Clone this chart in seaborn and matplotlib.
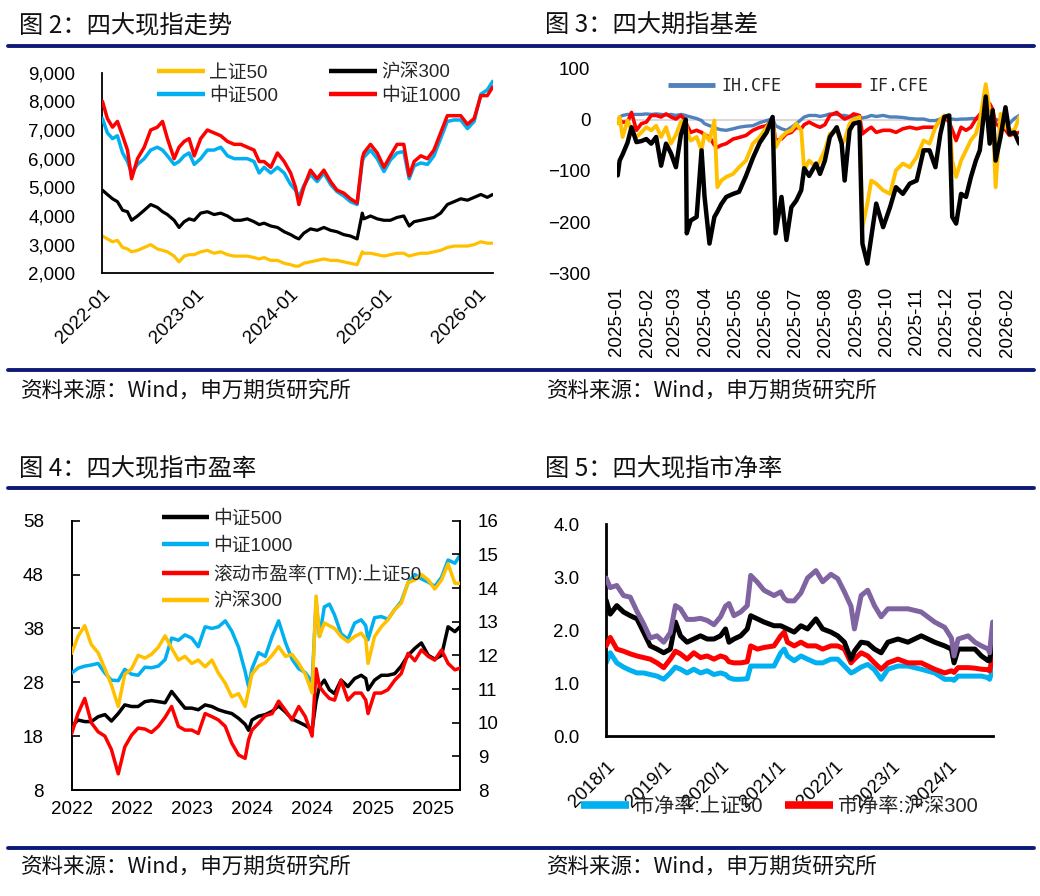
import pandas as pd
import matplotlib
matplotlib.use("Agg")
import matplotlib.pyplot as plt
from matplotlib.ticker import FixedLocator
from matplotlib.lines import Line2D
import seaborn as sns

# ---------------- 图2：四大现指走势 ----------------
idx_dates = ["2022-01-04","2022-01-23","2022-02-12","2022-03-03","2022-03-23","2022-04-11","2022-04-27","2022-05-20",
             "2022-06-15","2022-07-10","2022-08-05","2022-08-25","2022-09-13","2022-10-09","2022-10-28","2022-11-17",
             "2022-12-06","2022-12-26","2023-01-20","2023-02-15","2023-03-13","2023-04-08","2023-05-04","2023-05-30",
             "2023-06-25","2023-07-20","2023-08-15","2023-09-04","2023-09-23","2023-10-19","2023-11-14","2023-12-10",
             "2024-01-04","2024-01-23","2024-02-05","2024-02-24","2024-03-21","2024-04-16","2024-05-12","2024-06-07",
             "2024-07-02","2024-07-28","2024-08-23","2024-09-18","2024-10-08","2024-10-14","2024-11-09","2024-12-05",
             "2024-12-31","2025-01-25","2025-02-20","2025-03-18","2025-04-08","2025-04-27","2025-05-23","2025-06-18",
             "2025-07-13","2025-08-08","2025-09-03","2025-09-29","2025-10-25","2025-11-20","2025-12-16","2026-01-11",
             "2026-02-05","2026-02-26"]
sz50_idx = [3300,3200,3100,3150,2900,2850,2750,2800,2900,3000,2850,2800,2750,2600,2400,2600,2650,2650,
            2750,2800,2700,2750,2650,2600,2600,2600,2550,2500,2550,2450,2450,2350,
            2300,2250,2250,2350,2400,2450,2500,2450,2450,2400,2350,2300,2750,2700,2700,2650,2600,
            2650,2700,2700,2600,2650,2700,2700,2750,2800,2900,2950,2950,2950,3000,
            3100,3050,3050]
hs300_idx = [4900,4750,4600,4500,4200,4150,3850,4000,4200,4400,4300,4150,4050,3850,3600,3800,3900,3850,
             4100,4150,4050,4100,4000,3850,3850,3900,3800,3700,3750,3650,3600,3450,
             3350,3250,3200,3400,3550,3500,3600,3500,3450,3350,3300,3200,4100,3900,4000,3900,3850,
             3850,3950,4000,3650,3800,3850,3900,3950,4100,4400,4500,4600,4550,4650,
             4750,4650,4750]
zz500_idx = [7400,6900,6700,6800,6200,5900,5500,5800,6000,6300,6400,6300,6100,5800,5900,6100,6200,5800,
             6000,6300,6300,6400,6100,6000,6000,6000,5900,5500,5700,5500,5700,5500,
             5100,4900,4650,5050,5450,5200,5500,5100,4850,4700,4500,4400,5900,6050,6300,6000,5550,
             5950,6200,6250,5300,5750,5850,5800,6100,6700,7300,7350,7350,7050,7300,
             8250,8400,8700]
zz1000_idx = [8000,7400,7100,7300,6800,6300,5300,6000,6400,7000,7100,7300,6700,6000,6400,6600,6700,6100,
              6700,7000,6900,6800,6600,6500,6500,6400,6300,5900,5900,5700,6200,5900,
              5500,5000,4400,5000,5600,5300,5600,5200,4900,4800,4600,4450,6000,6200,6500,6200,5700,
              6100,6500,6500,5400,5900,6100,6000,6300,6900,7500,7500,7500,7200,7400,
              8200,8200,8500]
idx_tick_dates = ["2022-01-01","2023-01-01","2024-01-01","2025-01-01","2026-01-01"]
idx_tick_labels = ["2022-01","2023-01","2024-01","2025-01","2026-01"]
idx_yticks = [2000,3000,4000,5000,6000,7000,8000,9000]

# ---------------- 图3：四大期指基差 ----------------
basis_dates = ["2025-01-02","2025-01-04","2025-01-07","2025-01-12","2025-01-16","2025-01-21","2025-01-26","2025-01-31",
               "2025-02-05","2025-02-10","2025-02-15","2025-02-20","2025-02-25","2025-03-02","2025-03-07","2025-03-12",
               "2025-03-13","2025-03-17","2025-03-23","2025-03-28","2025-03-31","2025-04-05","2025-04-10","2025-04-13",
               "2025-04-17","2025-04-22","2025-04-29","2025-05-05","2025-05-12","2025-05-19","2025-05-26","2025-06-02",
               "2025-06-08","2025-06-11","2025-06-17","2025-06-22","2025-06-27","2025-07-02","2025-07-07","2025-07-10",
               "2025-07-15","2025-07-22","2025-07-26","2025-07-31","2025-08-05","2025-08-12","2025-08-17","2025-08-20",
               "2025-08-25","2025-08-29","2025-09-04","2025-09-07","2025-09-12","2025-09-16","2025-09-21","2025-09-28",
               "2025-10-05","2025-10-11","2025-10-18","2025-10-25","2025-11-01","2025-11-08","2025-11-14","2025-11-20",
               "2025-11-25","2025-11-29","2025-12-04","2025-12-07","2025-12-11","2025-12-16","2025-12-21","2025-12-26",
               "2025-12-31","2026-01-04","2026-01-10","2026-01-14","2026-01-17","2026-01-20","2026-01-25","2026-01-30",
               "2026-02-03","2026-02-08","2026-02-13"]
ih_basis = [-2,5,8,10,10,10,10,11,10,11,10,9,10,8,10,8,7,5,2,-2,-8,-12,-15,-18,-20,-21,-18,-15,-13,-12,-6,-2,2,-12,
            -18,-21,-15,-8,0,5,8,8,
            6,8,11,10,8,8,6,5,5,3,5,8,6,8,5,5,4,2,1,1,-2,-2,1,2,1,1,0,1,1,2,2,3,5,5,3,0,-2,-5,-8,2,8]
if_basis = [-5,-2,-5,-5,14,-21,-8,-5,8,8,5,11,5,1,8,-2,-10,-25,-21,-25,-30,-34,-50,-54,-50,-47,-38,-35,-31,-21,
            -15,-12,1,-41,-38,-28,-25,-15,-18,-10,-5,-12,
            -15,-10,8,14,5,1,5,11,8,-28,-20,-15,-25,-21,-21,-25,-18,-15,-18,-15,-15,-15,0,5,-5,-20,-41,-15,-21,
            -15,1,10,18,31,20,-8,-15,-20,-31,-28,-25]
ic_basis = [-8,5,-34,-2,-20,-34,-25,-15,-21,-12,-34,-15,-47,-30,-5,-2,-20,-41,-34,-60,-28,-41,-2,-132,-119,
            -112,-106,-93,-80,-47,-34,-15,1,-54,-34,-25,-21,-8,-21,-99,-80,-93,
            -80,-60,-28,-21,-47,-40,-8,0,5,-210,-164,-119,-125,-138,-145,-99,-86,-93,-73,-41,-47,-15,0,8,1,
            -80,-112,-80,-60,-40,-28,-2,69,18,11,-132,11,-15,-21,-21,5]
im_basis = [-109,-80,-68,-45,-15,-44,-42,-38,-47,-34,-90,-47,-66,-93,-30,0,-222,-197,-190,-60,-150,-242,-190,
            -180,-165,-151,-145,-141,-110,-75,-45,-25,5,-222,-151,-235,-171,-158,-138,-95,-110,-86,
            -106,-80,-34,-15,-47,-119,-21,-8,-5,-242,-281,-229,-164,-210,-171,-132,-145,-125,-119,-60,-60,-93,
            -28,5,8,-190,-203,-145,-151,-112,-80,-60,45,-47,18,-80,-34,24,-28,-25,-47]
basis_tick_dates = ["2025-01-01","2025-02-01","2025-03-01","2025-04-01","2025-05-01","2025-06-01","2025-07-01",
                    "2025-08-01","2025-09-01","2025-10-01","2025-11-01","2025-12-01","2026-01-01","2026-02-01"]
basis_tick_labels = ["2025-01","2025-02","2025-03","2025-04","2025-05","2025-06","2025-07",
                     "2025-08","2025-09","2025-10","2025-11","2025-12","2026-01","2026-02"]
basis_yticks = [-300,-200,-100,0,100]

# ---------------- 图4：四大现指市盈率 ----------------
pe_dates = ["2022-05-30","2022-06-21","2022-07-15","2022-08-07","2022-08-31","2022-09-24","2022-10-17","2022-11-10",
            "2022-12-03","2022-12-27","2023-01-19","2023-02-12","2023-03-07","2023-03-31","2023-04-24","2023-05-17",
            "2023-06-10","2023-07-03","2023-07-27","2023-08-19","2023-09-12","2023-10-06","2023-10-29","2023-11-22",
            "2023-12-15","2024-01-08","2024-01-31","2024-02-12","2024-02-24","2024-03-18","2024-04-11","2024-05-05",
            "2024-05-28","2024-06-21","2024-07-14","2024-08-07","2024-08-30","2024-09-23","2024-10-07","2024-10-19",
            "2024-11-05","2024-11-23","2024-12-11","2025-01-03","2025-01-27","2025-02-20","2025-03-15","2025-03-31",
            "2025-04-08","2025-05-01","2025-05-25","2025-06-17","2025-07-11","2025-08-03","2025-08-27","2025-09-20",
            "2025-10-13","2025-11-06","2025-11-29","2025-12-23","2026-01-15","2026-02-08","2026-02-26"]
zz500_pe = [19.8,21.0,20.7,20.7,21.6,22.0,20.8,22.2,23.8,23.5, 23.5,24.4,24.6,24.4,24.2,26.3,24.7,23.2,23.2,22.9,
            23.8,23.5,22.9,22.5,22.2,21.3,20.2,19.1,21.0,21.7, 22.0,22.6,23.6,22.5,21.2,20.6,20.0,19.2,24.5,27.2,
            28.4,26.6,25.9,28.4,27.2,28.7,29.3,28.7,26.6,28.4, 29.3,29.3,29.6,31.0,33.0,34.3,35.3,33.0,32.3,33.0,
            38.3,37.4,38.3]
zz1000_pe = [29.7,30.6,31.0,31.2,31.5,29.7,28.4,28.3,30.4,29.5, 29.3,30.8,30.7,31.0,32.2,36.2,35.8,36.8,36.2,34.6,
             38.3,38.0,38.3,39.4,37.5,34.5,30.0,27.2,30.5,33.5, 32.8,36.5,39.4,35.4,32.3,30.5,29.8,28.0,43.0,36.5,
             42.0,42.5,40.5,37.0,36.0,39.0,39.6,38.5,35.9,40.0, 40.2,39.7,41.5,43.0,46.5,48.0,47.2,46.6,45.8,47.5,
             50.7,50.1,51.6]
sz50_pe_ttm = [9.68,10.27,10.72,10.00,9.73,9.60,9.20,8.48,9.28,9.63, 9.84,9.81,9.71,9.89,10.16,10.48,9.89,9.78,9.78,9.68,
               10.27,10.18,10.08,9.89,9.39,9.04,8.94,9.49,9.78,9.98, 10.21,10.27,10.64,10.37,10.08,10.48,10.18,9.60,11.60,11.07,
               10.88,10.72,10.67,11.26,10.67,10.88,10.88,10.67,10.27,10.88, 10.88,10.98,11.26,11.46,12.06,11.84,12.16,11.97,11.86,12.16,
               11.76,11.57,11.62]
hs300_pe = [12.06,12.56,12.88,12.32,12.08,11.60,11.12,10.48,11.44,11.60, 12.00,11.92,12.03,12.24,12.58,12.21,11.86,11.97,11.76,11.86,
            11.66,11.86,11.47,11.17,10.77,10.86,10.48,10.96,11.44,11.68, 11.78,12.00,12.26,11.97,12.03,11.76,11.44,10.88,13.76,12.56,
            12.96,12.88,12.80,12.56,12.40,12.56,12.66,12.48,11.76,12.56, 12.85,13.06,13.36,13.55,14.16,14.24,14.40,14.24,13.97,14.24,
            14.72,14.14,14.14]
pe_tick_dates = ["2022-05-30","2022-12-28","2023-07-28","2024-02-25","2024-09-24","2025-04-24","2025-11-22"]
pe_tick_labels = ["2022","2022","2023","2024","2024","2025","2025"]
pe_left_ticks = [8,18,28,38,48,58]
pe_right_ticks = [8,9,10,11,12,13,14,15,16]

# ---------------- 图5：四大现指市净率 ----------------
pb_dates = ["2018-01-02","2018-01-28","2018-03-11","2018-04-23","2018-06-05","2018-07-18","2018-08-29","2018-10-11",
            "2018-11-23","2019-01-05","2019-02-16","2019-03-21","2019-04-22","2019-06-03","2019-07-16","2019-08-28",
            "2019-10-10","2019-11-22","2020-01-03","2020-02-04","2020-02-26","2020-03-29","2020-05-11","2020-06-22",
            "2020-07-14","2020-08-26","2020-10-07","2020-12-10","2021-01-22","2021-02-13","2021-03-06","2021-04-18",
            "2021-05-31","2021-07-12","2021-09-04","2021-10-17","2021-12-09","2022-01-21","2022-03-05","2022-04-16",
            "2022-05-08","2022-06-20","2022-08-01","2022-09-13","2022-10-26","2022-12-08","2023-02-10","2023-04-15",
            "2023-07-09","2023-10-03","2023-12-06","2024-01-18","2024-02-04","2024-03-01","2024-05-04","2024-06-16",
            "2024-07-28","2024-09-09","2024-09-18","2024-10-08"]
sz50_pb = [1.38,1.57,1.38,1.30,1.24,1.19,1.19,1.16,1.13,1.07, 1.19,1.30,1.26,1.19,1.26,1.19,1.23,1.16,1.19,1.16,
           1.10,1.07,1.07,1.08,1.32,1.32,1.32,1.32,1.57,1.64, 1.51,1.42,1.51,1.45,1.38,1.38,1.45,1.45,1.32,1.19,
           1.22,1.30,1.35,1.25,1.07,1.26,1.32,1.32,1.26,1.19, 1.07,1.07,1.05,1.13,1.13,1.13,1.13,1.10,1.07,1.26]
hs300_pb = [1.70,1.86,1.64,1.60,1.55,1.51,1.48,1.45,1.38,1.29, 1.45,1.60,1.55,1.45,1.57,1.48,1.51,1.45,1.51,1.48,
            1.40,1.38,1.38,1.40,1.70,1.64,1.67,1.70,1.89,1.96, 1.77,1.70,1.77,1.70,1.70,1.64,1.70,1.70,1.64,1.38,
            1.45,1.57,1.51,1.38,1.26,1.38,1.45,1.38,1.38,1.26, 1.19,1.23,1.20,1.29,1.29,1.28,1.26,1.25,1.23,1.51]
pb_black = [2.56,2.30,2.46,2.34,2.27,2.21,1.96,1.70,1.64,1.57, 1.64,2.15,1.89,1.77,1.83,1.89,1.83,1.83,1.89,2.02,
            1.77,1.83,1.89,2.02,2.27,2.21,2.15,2.08,2.08,2.05, 2.02,1.96,2.08,2.02,2.21,2.02,1.96,1.89,1.77,1.45,
            1.60,1.77,1.75,1.64,1.57,1.77,1.83,1.77,1.89,1.77, 1.70,1.64,1.38,1.64,1.64,1.64,1.51,1.42,1.42,1.83]
pb_purple = [2.98,2.80,2.84,2.65,2.62,2.35,2.12,1.85,1.89,1.77, 1.95,2.46,2.40,2.20,2.20,2.22,2.18,2.10,2.25,2.45,
             2.50,2.27,2.34,2.46,3.03,2.90,2.75,2.65,2.72,2.60, 2.55,2.55,2.70,2.98,3.12,2.91,3.05,2.97,2.72,2.45,
             2.02,2.65,2.75,2.46,2.25,2.40,2.40,2.40,2.34,2.15, 2.05,1.85,1.51,1.83,1.89,1.77,1.70,1.64,1.57,2.15]
pb_tick_dates = ["2018-01-01","2019-01-01","2020-01-01","2021-01-01","2022-01-01","2023-01-01","2024-01-01"]
pb_tick_labels = ["2018/1","2019/1","2020/1","2021/1","2022/1","2023/1","2024/1"]
pb_yticks = [0.0,1.0,2.0,3.0,4.0]

titles = ["图 2：四大现指走势", "图 3：四大期指基差", "图 4：四大现指市盈率", "图 5：四大现指市净率"]
source_text = "资料来源：Wind，申万期货研究所"

# ---------------- style ----------------
sns.set_style("white")
plt.rcParams['font.family'] = ['Liberation Sans', 'Noto Sans CJK SC', 'DejaVu Sans']
plt.rcParams['axes.unicode_minus'] = True
CJK = ['Noto Sans CJK SC', 'DejaVu Sans']

GOLD, BLACK, SKY, RED = "#FFC000", "#000000", "#00B0F0", "#FF0000"
STEEL, PURPLE, NAVY = "#4F81BD", "#8064A2", "#0E1A78"

W, H = 1040, 896
fig = plt.figure(figsize=(W / 100, H / 100), dpi=100)
fig.patch.set_facecolor("white")


def rect(l, t, r, b):
    return [l / W, (H - b) / H, (r - l) / W, (b - t) / H]


def line(ax, dates, vals, color, lw, z):
    sns.lineplot(x=pd.to_datetime(dates), y=vals, ax=ax, color=color, linewidth=lw,
                 legend=False, estimator=None, sort=False, zorder=z)


def proxy(color, lw):
    return Line2D([0], [0], color=color, lw=lw, solid_capstyle='butt')


# frame lines, titles and sources
for yy in (46, 370, 488, 848):
    fig.add_artist(Line2D([8 / W, 1034 / W], [1 - yy / H] * 2, color=NAVY, lw=2.8,
                          transform=fig.transFigure))
for (tx, ty), t in zip([(19, 26), (545, 26), (19, 469), (545, 469)], titles):
    fig.text(tx / W, 1 - ty / H, t, fontsize=17.5, ha='left', va='center', family=CJK, color="#111111")
for (tx, ty) in [(21, 391), (547, 391), (21, 867), (547, 867)]:
    fig.text(tx / W, 1 - ty / H, source_text, fontsize=15.5, ha='left', va='center', family=CJK, color="#111111")

FS = 13.5

# ---------------- 图2 ----------------
ax2 = fig.add_axes(rect(101.7, 72.7, 492.7, 273.3))
line(ax2, idx_dates, sz50_idx, GOLD, 2.3, 2)
line(ax2, idx_dates, hs300_idx, BLACK, 2.3, 3)
line(ax2, idx_dates, zz500_idx, SKY, 2.5, 4)
line(ax2, idx_dates, zz1000_idx, RED, 2.5, 5)
ax2.set_xlim(pd.Timestamp("2022-01-01"), pd.Timestamp("2026-02-26"))
ax2.set_ylim(2000, 9000)
ax2.yaxis.set_major_locator(FixedLocator(idx_yticks))
ax2.set_yticklabels([f"{v:,}" for v in idx_yticks])
ax2.set_xticks(pd.to_datetime(idx_tick_dates))
ax2.set_xticklabels(idx_tick_labels, rotation=45, ha='right', rotation_mode='anchor')
for s in ("top", "right"):
    ax2.spines[s].set_visible(False)
for s in ("left", "bottom"):
    ax2.spines[s].set_color("black"); ax2.spines[s].set_linewidth(1.3)
ax2.tick_params(axis='both', direction='in', length=6, width=1.2, labelsize=FS, colors='black')
ax2.tick_params(axis='y', pad=19)
ax2.tick_params(axis='x', pad=9)
ax2.set_xlabel(""); ax2.set_ylabel("")
h2 = [proxy(GOLD, 3.2), proxy(SKY, 3.2), proxy(BLACK, 3.2), proxy(RED, 3.2)]
l2 = ["上证50", "中证500", "沪深300", "中证1000"]
ax2.legend(h2, l2, ncol=2, loc='upper left', bbox_to_anchor=(157 / W, 1 - 64 / H),
           bbox_transform=fig.transFigure, frameon=False, fontsize=FS, handlelength=2.55,
           handletextpad=0.25, columnspacing=2.7, labelspacing=0.32, borderpad=0, borderaxespad=0)

# ---------------- 图3 ----------------
ax3 = fig.add_axes(rect(616.7, 68.3, 1019.3, 273.3))
ax3.axhline(0, color="#D9D9D9", lw=1.5, zorder=1)
line(ax3, basis_dates, ih_basis, STEEL, 2.4, 2)
line(ax3, basis_dates, if_basis, RED, 2.6, 3)
line(ax3, basis_dates, ic_basis, GOLD, 2.8, 4)
line(ax3, basis_dates, im_basis, BLACK, 3.2, 5)
ax3.set_xlim(pd.Timestamp("2025-01-01"), pd.Timestamp("2026-02-13"))
ax3.set_ylim(-300, 100)
ax3.yaxis.set_major_locator(FixedLocator(basis_yticks))
ax3.set_yticklabels(["\u2212300", "\u2212200", "\u2212100", "0", "100"])
ax3.set_xticks(pd.to_datetime(basis_tick_dates))
ax3.set_xticklabels(basis_tick_labels, rotation=90, ha='center', va='top')
for s in ax3.spines.values():
    s.set_visible(False)
ax3.tick_params(axis='both', length=0, labelsize=FS, colors='black')
ax3.tick_params(axis='y', pad=19)
ax3.tick_params(axis='x', pad=10)
ax3.set_xlabel(""); ax3.set_ylabel("")
ax3.legend([proxy(STEEL, 3.5), proxy(RED, 3.5)], ["IH.CFE", "IF.CFE"], ncol=2, loc='upper left',
           bbox_to_anchor=(668 / W, 1 - 77 / H), bbox_transform=fig.transFigure, frameon=False,
           prop={'family': ['DejaVu Sans Mono'], 'size': 12}, handlelength=2.8, handletextpad=0.4,
           columnspacing=2.0, borderpad=0, borderaxespad=0)

# ---------------- 图4 ----------------
ax4 = fig.add_axes(rect(71.7, 520.7, 460, 790))
line(ax4, pe_dates, zz500_pe, BLACK, 2.5, 2)
line(ax4, pe_dates, zz1000_pe, SKY, 2.5, 3)
ax4.set_xlim(pd.Timestamp("2022-05-30"), pd.Timestamp("2026-02-26"))
ax4.set_ylim(8, 58)
ax4.yaxis.set_major_locator(FixedLocator(pe_left_ticks))
ax4.set_yticklabels([str(v) for v in pe_left_ticks])
ax4.set_xticks(pd.to_datetime(pe_tick_dates))
ax4.set_xticklabels(pe_tick_labels)
ax4r = ax4.twinx()
line(ax4r, pe_dates, sz50_pe_ttm, RED, 2.5, 4)
line(ax4r, pe_dates, hs300_pe, GOLD, 2.5, 5)
ax4r.set_ylim(8, 16)
ax4r.yaxis.set_major_locator(FixedLocator(pe_right_ticks))
ax4r.set_yticklabels([str(v) for v in pe_right_ticks])
ax4.spines["top"].set_visible(False)
ax4.spines["right"].set_visible(False)
for s in ("top", "left", "bottom"):
    ax4r.spines[s].set_visible(False)
for sp in (ax4.spines["left"], ax4.spines["bottom"], ax4r.spines["right"]):
    sp.set_color("black"); sp.set_linewidth(1.4)
ax4.tick_params(axis='both', direction='in', length=6, width=1.2, labelsize=FS, colors='black')
ax4.tick_params(axis='y', pad=20)
ax4.tick_params(axis='x', pad=8)
ax4r.tick_params(axis='y', direction='in', length=6, width=1.2, labelsize=FS, colors='black', pad=13)
for a in (ax4, ax4r):
    a.set_xlabel(""); a.set_ylabel("")
h4 = [proxy(BLACK, 3.2), proxy(SKY, 3.2), proxy(RED, 3.2), proxy(GOLD, 3.2)]
l4 = ["中证500", "中证1000", "滚动市盈率(TTM):上证50", "沪深300"]
ax4r.legend(h4, l4, ncol=1, loc='upper left', bbox_to_anchor=(162 / W, 1 - 510 / H),
            bbox_transform=fig.transFigure, frameon=False, fontsize=FS, handlelength=2.5,
            handletextpad=0.25, labelspacing=0.5, borderpad=0, borderaxespad=0)

# ---------------- 图5 ----------------
ax5 = fig.add_axes(rect(606, 524, 992.7, 736))
line(ax5, pb_dates, sz50_pb, SKY, 3.6, 2)
line(ax5, pb_dates, hs300_pb, RED, 3.6, 3)
line(ax5, pb_dates, pb_black, BLACK, 3.6, 4)
line(ax5, pb_dates, pb_purple, PURPLE, 3.6, 5)
ax5.set_xlim(pd.Timestamp("2018-01-01"), pd.Timestamp("2024-10-08"))
ax5.set_ylim(0, 4)
ax5.yaxis.set_major_locator(FixedLocator(pb_yticks))
ax5.set_yticklabels([f"{v:.1f}" for v in pb_yticks])
ax5.set_xticks(pd.to_datetime(pb_tick_dates))
ax5.set_xticklabels(pb_tick_labels, rotation=45, ha='right', rotation_mode='anchor')
for s in ("top", "right"):
    ax5.spines[s].set_visible(False)
for s in ("left", "bottom"):
    ax5.spines[s].set_color("black"); ax5.spines[s].set_linewidth(2.0)
ax5.tick_params(axis='y', direction='in', length=6, width=1.5, labelsize=FS, colors='black', pad=19)
ax5.tick_params(axis='x', direction='out', length=6, width=1.5, labelsize=FS, colors='black', pad=10)
ax5.set_xlabel(""); ax5.set_ylabel("")
ax5.legend([proxy(SKY, 5.5), proxy(RED, 5.5)], ["市净率:上证50", "市净率:沪深300"], ncol=2,
           loc='upper left', bbox_to_anchor=(581 / W, 1 - 797 / H), bbox_transform=fig.transFigure,
           frameon=False, fontsize=14.5, handlelength=2.4, handletextpad=0.25, columnspacing=1.1,
           borderpad=0, borderaxespad=0)

fig.savefig("out.png", dpi=100, facecolor="white")
